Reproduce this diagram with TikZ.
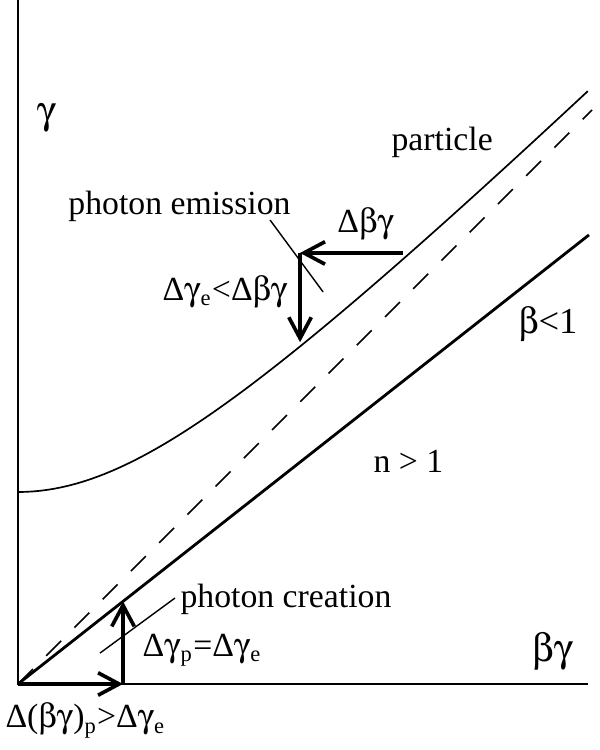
\documentclass[tikz,border=0pt]{standalone}
\usepackage{fontspec}
\setmainfont{Liberation Serif}
\usepackage[Symbol]{upgreek}
\usetikzlibrary{arrows.meta,calc,positioning}
\newcommand{\bg}{$\upbeta\upgamma$}
\newcommand{\gm}{$\upgamma$}

\begin{document}
\begin{tikzpicture}[x=2.4cm, y=2.4cm,
    axis/.style={line width=0.6pt},
    vec/.style={line width=1.3pt, -{Straight Barb[length=7.5pt,width=8pt]}},
    leader/.style={line width=0.5pt},
    lbl/.style={anchor=base west, inner sep=0pt, font=\fontsize{12}{14}\selectfont}]
    \useasboundingbox (-0.09375,-0.34375) rectangle (3.03125,3.5625);

    % Axes
    \coordinate (O) at (0,0);
    \coordinate (ytop) at (0,3.5625);
    \coordinate (xend) at (2.969,0);
    \draw[axis] (ytop) -- (O) -- (xend);

    % Light line (dashed) and the beta<1 line
    \coordinate (lightend) at (2.99,2.99);
    \coordinate (betaend) at (2.974,2.339);
    \draw[axis, dash pattern=on 7.5pt off 6.7pt] (O) -- (lightend);
    \draw[line width=1pt] (O) -- (betaend);

    % Particle curve
    \draw[axis] plot[domain=0:2.969, samples=80] (\x,{sqrt(1+0.969*\x*\x)});

    % Photon emission step
    \coordinate (pe0) at (2.005,2.245);
    \coordinate (pe1) at (1.469,2.245);
    \coordinate (pe2) at (1.469,1.78);
    \draw[vec] (pe0) -- (pe1);
    \draw[vec] (pe1) -- (pe2);

    % Photon creation step
    \coordinate (pc0) at (0.547,0);
    \coordinate (pc1) at (0.547,0.43);
    \draw[vec] (O) -- (pc0);
    \draw[vec] (pc0) -- (pc1);

    % Labels
    \node[lbl, anchor=center, font=\fontsize{14}{16}\selectfont] (gam) at (0.151,2.948) {\gm};
    \node[lbl] (part) at (1.943,2.781) {particle};
    \node[lbl] (emis) at (0.260,2.443) {photon emission};
    \node[lbl] (dbg) at (1.661,2.349) {Δ\bg};
    \node[lbl] (dge) at (0.750,2.000) {Δ\gm\textsubscript{e}<Δ\bg};
    \node[lbl, font=\fontsize{13}{15}\selectfont] (blt) at (2.604,1.828) {$\upbeta$<1};
    \node[lbl] (ngt) at (1.849,1.099) {n > 1};
    \node[lbl] (crea) at (0.844,0.396) {photon creation};
    \node[lbl] (dgp) at (0.646,0.141) {Δ\gm\textsubscript{p}=Δ\gm\textsubscript{e}};
    \node[lbl, font=\fontsize{14}{16}\selectfont] (bgl) at (2.677,0.115) {\bg};
    \node[lbl] (dbgp) at (-0.068,-0.229) {Δ(\bg)\textsubscript{p}>Δ\gm\textsubscript{e}};

    % Leader lines
    \coordinate (le0) at (1.3125,2.417);
    \coordinate (le1) at (1.589,2.042);
    \draw[leader] (le0) -- (le1);
    \coordinate (lc0) at (0.818,0.448);
    \coordinate (lc1) at (0.427,0.161);
    \draw[leader] (lc0) -- (lc1);
\end{tikzpicture}
\end{document}
